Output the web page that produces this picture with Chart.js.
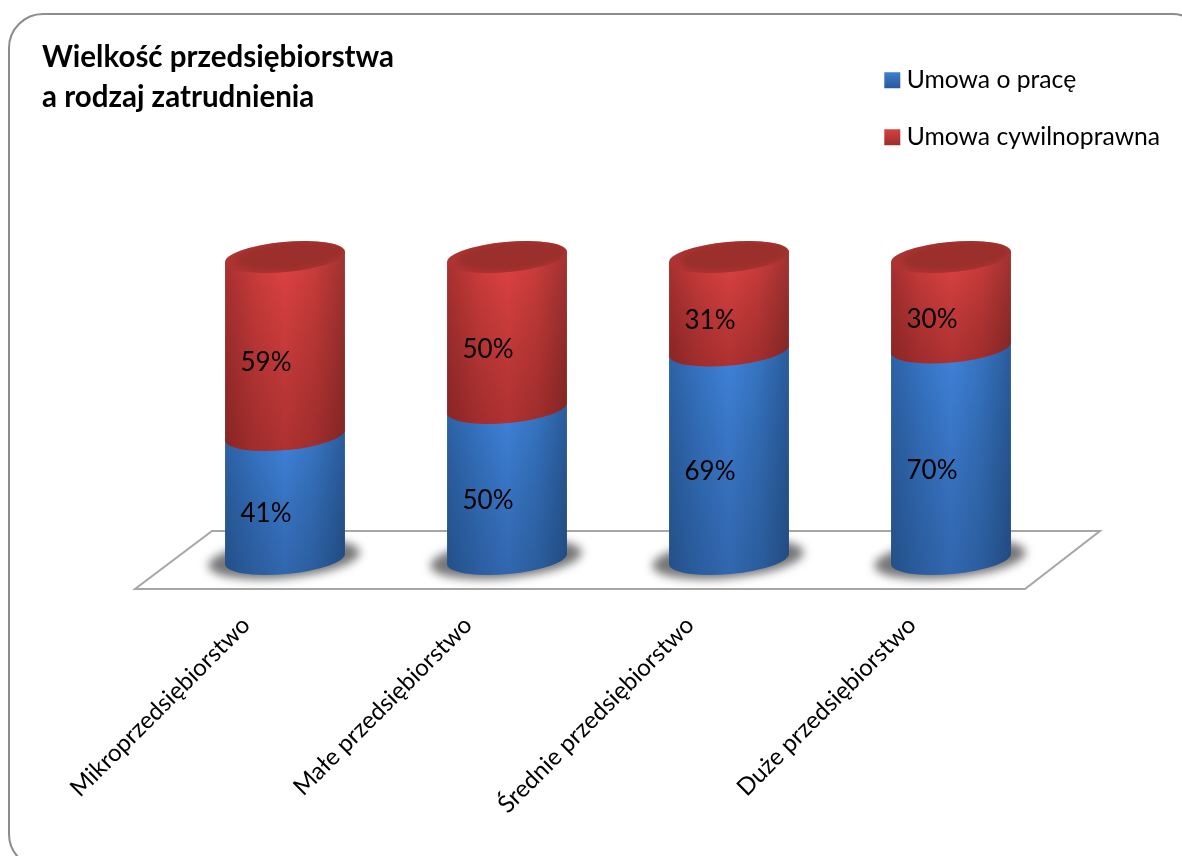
<!DOCTYPE html>
<html lang="pl">
<head>
    <meta charset="UTF-8">
    <title>Wielkość przedsiębiorstwa a rodzaj zatrudnienia</title>
    <style>
        html, body { margin: 0; padding: 0; background: #fff; overflow: hidden; }
        canvas { display: block; }
    </style>
</head>
<body>
<canvas id="wykres" width="1182" height="856"></canvas>

<script src="https://cdn.jsdelivr.net/npm/chart.js"></script>
<script>
    const kategorie = ['Mikroprzedsiębiorstwo', 'Małe przedsiębiorstwo', 'Średnie przedsiębiorstwo', 'Duże przedsiębiorstwo'];
    const umowaOPrace = [41, 50, 69, 70];
    const umowaCywilnoprawna = [59, 50, 31, 30];

    const FONT = 'Lato, "Open Sans", sans-serif';
    const TILT = Math.atan(-11 / 120);  // pochylenie elips
    const RY = 15;                      // mala polos elipsy

    const kolory = [
        { side: ['#2d63a8', '#3674c4', '#3f82da', '#3674c2', '#2a5c9c'], shade: 'rgba(10,25,50,0.26)', legend: ['#3f7fd3', '#2a5a9a'] },
        { side: ['#aa3130', '#cb3c3b', '#df4242', '#ca3c3b', '#a03230'], shade: 'rgba(50,5,5,0.28)', legend: ['#d94040', '#9c2f2d'] }
    ];

    function sciezka(ctx, cx, yTop, yBottom, r) {
        const dy = Math.tan(TILT) * r;
        ctx.beginPath();
        ctx.ellipse(cx, yBottom, r / Math.cos(TILT), RY, TILT, 0, Math.PI);
        ctx.lineTo(cx - r, yTop - dy);
        ctx.lineTo(cx + r, yTop + dy);
        ctx.closePath();
    }

    function segment(ctx, bar, styl) {
        const r = bar.width / 2;
        const cx = bar.x;
        const side = ctx.createLinearGradient(cx - r, 0, cx + r, 0);
        styl.side.forEach((c, i) => side.addColorStop(i / (styl.side.length - 1), c));
        sciezka(ctx, cx, bar.y, bar.base, r);
        ctx.fillStyle = side;
        ctx.fill();
        const shade = ctx.createLinearGradient(0, bar.y, 0, bar.base + RY);
        shade.addColorStop(0, 'rgba(0,0,0,0)');
        shade.addColorStop(1, styl.shade);
        ctx.fillStyle = shade;
        ctx.fill();
    }

    // karta, podloga i cylindry - pozycje biora sie ze skal wykresu
    const cylindry = {
        id: 'cylindry',
        afterLayout(chart) {
            const lg = chart.legend;
            lg.left = 858; lg.right = 1182; lg.top = 35.5; lg.bottom = 856;
        },
        beforeDraw(chart) {
            const ctx = chart.ctx;
            ctx.save();
            ctx.fillStyle = '#fff';
            ctx.fillRect(0, 0, chart.width, chart.height);
            ctx.beginPath();
            ctx.roundRect(9, 14, 1197, 854, 34);
            ctx.strokeStyle = '#8c8c8c';
            ctx.lineWidth = 2;
            ctx.stroke();
            ctx.restore();
        },
        beforeDatasetsDraw(chart) {
            const ctx = chart.ctx;
            const a = chart.chartArea;
            ctx.save();
            ctx.beginPath();
            ctx.moveTo(a.left - 39, a.bottom + 30);
            ctx.lineTo(a.left + 38, a.bottom - 28);
            ctx.lineTo(a.right + 38, a.bottom - 28);
            ctx.lineTo(a.right - 37, a.bottom + 30);
            ctx.closePath();
            ctx.fillStyle = '#fff';
            ctx.fill();
            ctx.strokeStyle = '#a6a6a6';
            ctx.lineWidth = 2;
            ctx.stroke();
            ctx.filter = 'blur(5px)';
            ctx.fillStyle = 'rgba(80,80,80,0.78)';
            chart.getDatasetMeta(0).data.forEach(bar => {
                ctx.beginPath();
                ctx.ellipse(bar.x - 1, bar.base, bar.width / 2 + 16, RY + 4, TILT, 0, Math.PI * 2);
                ctx.fill();
            });
            ctx.restore();
        },
        beforeDatasetDraw() {
            return false;
        },
        afterDatasetsDraw(chart) {
            const ctx = chart.ctx;
            const dolne = chart.getDatasetMeta(0).data;
            const gorne = chart.getDatasetMeta(1).data;
            ctx.save();
            dolne.forEach((bar, i) => {
                segment(ctx, bar, kolory[0]);
                const top = gorne[i];
                segment(ctx, top, kolory[1]);

                // wieczko
                const rx = top.width / 2 / Math.cos(TILT);
                ctx.save();
                ctx.beginPath();
                ctx.ellipse(top.x, top.y, rx, RY, TILT, 0, Math.PI * 2);
                ctx.fillStyle = '#ae3431';
                ctx.fill();
                ctx.clip();
                ctx.filter = 'blur(3px)';
                ctx.beginPath();
                ctx.ellipse(top.x + 5, top.y - 1, rx - 6, RY - 1, TILT, 0, Math.PI * 2);
                ctx.fillStyle = '#9a2f2b';
                ctx.fill();
                ctx.restore();

                // etykiety wartosci
                ctx.fillStyle = '#000';
                ctx.font = '26px ' + FONT;
                ctx.textAlign = 'center';
                ctx.textBaseline = 'middle';
                ctx.fillText(umowaOPrace[i] + '%', bar.x - 19, (bar.y + bar.base) / 2 + 17);
                ctx.fillText(umowaCywilnoprawna[i] + '%', top.x - 19, (top.y + top.base) / 2 + 17);
            });
            ctx.restore();
        }
    };

    const ctx = document.getElementById('wykres').getContext('2d');

    function gradientLegendy(y, stops) {
        const g = ctx.createLinearGradient(0, y, 0, y + 16);
        g.addColorStop(0, stops[0]);
        g.addColorStop(1, stops[1]);
        return g;
    }

    new Chart(ctx, {
        type: 'bar',
        data: {
            labels: kategorie,
            datasets: [
                { label: 'Umowa o pracę', data: umowaOPrace, backgroundColor: '#3570bd' },
                { label: 'Umowa cywilnoprawna', data: umowaCywilnoprawna, backgroundColor: '#c03a38' }
            ]
        },
        plugins: [cylindry],
        options: {
            responsive: false,
            animation: false,
            barPercentage: 0.54,
            categoryPercentage: 1,
            layout: { padding: { left: 42, right: 120, top: 37, bottom: 0 } },
            scales: {
                x: {
                    stacked: true,
                    grid: { display: false },
                    border: { display: false },
                    afterFit(scale) { scale.height = 297; },
                    ticks: {
                        color: '#000',
                        font: { family: FONT, size: 24 },
                        minRotation: 45,
                        maxRotation: 45,
                        labelOffset: -39,
                        padding: 44
                    }
                },
                y: {
                    stacked: true,
                    min: 0,
                    max: 100,
                    grid: { display: false },
                    border: { display: false },
                    afterFit(scale) { scale.width = 132; },
                    ticks: { display: false }
                }
            },
            plugins: {
                title: {
                    display: true,
                    text: ['Wielkość przedsiębiorstwa', 'a rodzaj zatrudnienia'],
                    align: 'start',
                    color: '#000',
                    font: { family: FONT, size: 29.5, weight: 'bold', lineHeight: 1.356 },
                    padding: { top: 0, bottom: 140 }
                },
                legend: {
                    position: 'chartArea',
                    align: 'start',
                    labels: {
                        color: '#000',
                        font: { family: FONT, size: 24.7 },
                        boxWidth: 4,
                        boxHeight: 4,
                        padding: 32.3,
                        generateLabels(chart) {
                            return chart.data.datasets.map((ds, i) => {
                                const g = gradientLegendy(72 + 57 * i, kolory[i].legend);
                                return { text: ds.label, fillStyle: g, strokeStyle: g, lineWidth: 12, datasetIndex: i, fontColor: '#000' };
                            });
                        }
                    }
                },
                tooltip: { enabled: false }
            }
        }
    });
</script>
</body>
</html>
